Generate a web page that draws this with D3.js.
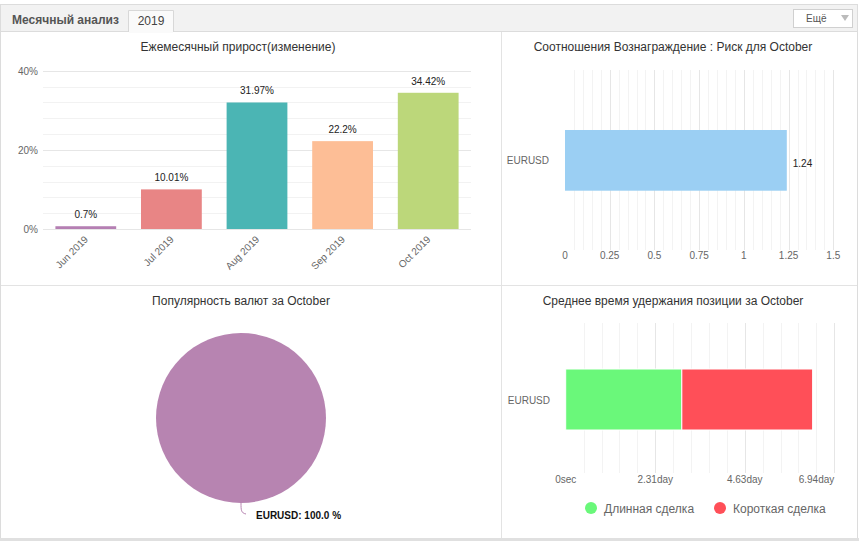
<!DOCTYPE html>
<html>
<head>
<meta charset="utf-8">
<script src="https://cdn.jsdelivr.net/npm/d3@7"></script>
<style>
  body { margin: 0; background: #fff; }
  svg { display: block; font-family: "Liberation Sans", Arial, sans-serif; }
</style>
</head>
<body>
<script>
// data
var months = ["Jun 2019", "Jul 2019", "Aug 2019", "Sep 2019", "Oct 2019"];
var growth = [0.7, 10.01, 31.97, 22.2, 34.42];
var growthColors = ["#b57fb3", "#e88585", "#4bb5b4", "#fdbe96", "#bcd77a"];
var growthTicks = [0, 20, 40];

var rrSymbols = ["EURUSD"];
var rrValues = [1.24];
var rrTicks = [0, 0.25, 0.5, 0.75, 1, 1.25, 1.5];

var pieSymbols = ["EURUSD"];
var pieShares = [100.0];

var holdSymbols = ["EURUSD"];
var holdLong = [3.0];   // days
var holdShort = [3.38]; // days
var holdTicks = [0, 2.313, 4.627, 6.94];
var holdTickLabels = ["0sec", "2.31day", "4.63day", "6.94day"];
var holdLegend = ["Длинная сделка", "Короткая сделка"];
var holdColors = ["#6af87a", "#ff4f58"];

var W = 861, H = 542;
var svg = d3.select("body").append("svg").attr("width", W).attr("height", H);

// frame + header
svg.append("rect").attr("x", 0.5).attr("y", 4.5).attr("width", 857).attr("height", 534)
  .attr("fill", "#fff").attr("stroke", "#dcdcdc");
svg.append("rect").attr("x", 0).attr("y", 538).attr("width", 859).attr("height", 3).attr("fill", "#e0e0e0");
svg.append("rect").attr("x", 1).attr("y", 5).attr("width", 856).attr("height", 26).attr("fill", "#f2f2f2");
svg.append("line").attr("x1", 1).attr("x2", 857).attr("y1", 31.5).attr("y2", 31.5).attr("stroke", "#dcdcdc");
svg.append("text").attr("x", 12).attr("y", 24).attr("font-size", 12).attr("font-weight", "bold")
  .attr("fill", "#555").text("Месячный анализ");
svg.append("path").attr("d", "M128.5,32V10.5H173.5V32").attr("fill", "#fafafa").attr("stroke", "#d8d8d8");
svg.append("rect").attr("x", 129).attr("y", 30).attr("width", 44).attr("height", 3).attr("fill", "#fafafa");
svg.append("text").attr("x", 151).attr("y", 25).attr("text-anchor", "middle").attr("font-size", 12)
  .attr("fill", "#444").text("2019");
svg.append("rect").attr("x", 793.5).attr("y", 9.5).attr("width", 59).attr("height", 18)
  .attr("fill", "#fff").attr("stroke", "#d0d0d0");
svg.append("text").attr("x", 806).attr("y", 22).attr("font-size", 10).attr("fill", "#555").text("Ещё");
svg.append("path").attr("d", "M841,15H849L845,21Z").attr("fill", "#bbb");

// panel dividers
svg.append("line").attr("x1", 501.5).attr("x2", 501.5).attr("y1", 32).attr("y2", 538).attr("stroke", "#e3e3e3");
svg.append("line").attr("x1", 1).attr("x2", 857).attr("y1", 285.5).attr("y2", 285.5).attr("stroke", "#e3e3e3");

function title(x, y, t) {
  svg.append("text").attr("x", x).attr("y", y).attr("text-anchor", "middle")
    .attr("font-size", 12).attr("fill", "#333").text(t);
}

// ---- monthly growth
title(238, 51, "Ежемесячный прирост(изменение)");
var gx = d3.scaleBand().domain(months).range([43, 471]).paddingInner(0.29).paddingOuter(0.145);
var gy = d3.scaleLinear().domain([0, 40]).range([229, 70.7]);
var g1 = svg.append("g");
g1.selectAll("line.minor").data(d3.range(0, 41, 4)).enter().append("line")
  .attr("x1", 43).attr("x2", 471)
  .attr("y1", function (d) { return Math.round(gy(d)) + 0.5; })
  .attr("y2", function (d) { return Math.round(gy(d)) + 0.5; })
  .attr("stroke", function (d) { return d % 20 === 0 ? "#e6e6e6" : "#f2f2f2"; });
g1.selectAll("text.yt").data(growthTicks).enter().append("text")
  .attr("x", 38).attr("y", function (d) { return gy(d) + 4; })
  .attr("text-anchor", "end").attr("font-size", 10).attr("fill", "#666")
  .text(function (d) { return d + "%"; });
g1.selectAll("rect").data(growth).enter().append("rect")
  .attr("x", function (d, i) { return gx(months[i]); })
  .attr("width", gx.bandwidth())
  .attr("y", function (d) { return gy(d); })
  .attr("height", function (d) { return gy(0) - gy(d); })
  .attr("fill", function (d, i) { return growthColors[i]; });
g1.selectAll("text.val").data(growth).enter().append("text")
  .attr("x", function (d, i) { return gx(months[i]) + gx.bandwidth() / 2; })
  .attr("y", function (d) { return gy(d) - 8; })
  .attr("text-anchor", "middle").attr("font-size", 10).attr("fill", "#222")
  .text(function (d) { return d + "%"; });
g1.selectAll("text.xt").data(months).enter().append("text")
  .attr("transform", function (d) { return "translate(" + (gx(d) + gx.bandwidth() / 2 + 3) + ",240) rotate(-45)"; })
  .attr("text-anchor", "end").attr("font-size", 10).attr("fill", "#666")
  .text(function (d) { return d; });

// ---- reward : risk
title(673, 51, "Соотношения Вознаграждение : Риск для October");
var rx = d3.scaleLinear().domain([0, 1.5]).range([565, 833.3]);
var ry = d3.scaleBand().domain(rrSymbols).range([70, 250]).paddingInner(0).paddingOuter(0.0);
var g2 = svg.append("g");
g2.selectAll("line").data(d3.range(1, 31)).enter().append("line")
  .attr("x1", function (d) { return Math.round(rx(d * 0.05)) + 0.5; })
  .attr("x2", function (d) { return Math.round(rx(d * 0.05)) + 0.5; })
  .attr("y1", 70).attr("y2", 250)
  .attr("stroke", function (d) { return d % 5 === 0 ? "#e6e6e6" : "#f3f3f3"; });
g2.selectAll("rect").data(rrValues).enter().append("rect")
  .attr("x", rx(0)).attr("width", function (d) { return rx(d) - rx(0); })
  .attr("y", function (d, i) { return ry(rrSymbols[i]) + 60; }).attr("height", 60.7)
  .attr("fill", "#9bcff3");
g2.selectAll("text.val").data(rrValues).enter().append("text")
  .attr("x", function (d) { return rx(d) + 6; }).attr("y", 167)
  .attr("font-size", 10).attr("fill", "#222").text(function (d) { return d; });
g2.selectAll("text.cat").data(rrSymbols).enter().append("text")
  .attr("x", 549).attr("y", 164).attr("text-anchor", "end")
  .attr("font-size", 10).attr("fill", "#666").text(function (d) { return d; });
g2.selectAll("text.xt").data(rrTicks).enter().append("text")
  .attr("x", function (d) { return rx(d); }).attr("y", 259).attr("text-anchor", "middle")
  .attr("font-size", 10).attr("fill", "#666").text(function (d) { return d; });

// ---- currency popularity pie
title(241, 305, "Популярность валют за October");
var pie = d3.pie().sort(null)(pieShares);
var arc = d3.arc().innerRadius(0).outerRadius(85);
var g3 = svg.append("g").attr("transform", "translate(241,418)");
g3.selectAll("path").data(pie).enter().append("path")
  .attr("d", arc).attr("fill", "#b784b1");
g3.append("path").attr("d", "M0,85C0,92 0,95 5,96").attr("fill", "none").attr("stroke", "#b784b1");
g3.selectAll("text").data(pieSymbols).enter().append("text")
  .attr("x", 15).attr("y", 101).attr("font-size", 10).attr("font-weight", "bold").attr("fill", "#111")
  .text(function (d, i) { return d + ": " + pieShares[i].toFixed(1) + " %"; });

// ---- average holding time
title(673, 305, "Среднее время удержания позиции за October");
var hx = d3.scaleLinear().domain([0, 6.94]).range([565.7, 834.3]);
var hy = d3.scaleBand().domain(holdSymbols).range([323, 473]);
var g4 = svg.append("g");
g4.selectAll("line").data(d3.range(1, 16)).enter().append("line")
  .attr("x1", function (d) { return Math.round(hx(d * 6.94 / 15)) + 0.5; })
  .attr("x2", function (d) { return Math.round(hx(d * 6.94 / 15)) + 0.5; })
  .attr("y1", 323).attr("y2", 473)
  .attr("stroke", function (d) { return d % 5 === 0 ? "#e6e6e6" : "#f3f3f3"; });
var stack = holdSymbols.map(function (s, i) {
  return [{ x0: 0, x1: holdLong[i], c: holdColors[0], s: s }, { x0: holdLong[i], x1: holdLong[i] + holdShort[i], c: holdColors[1], s: s }];
});
g4.selectAll("rect").data(d3.merge(stack)).enter().append("rect")
  .attr("x", function (d) { return hx(d.x0); })
  .attr("width", function (d) { return hx(d.x1) - hx(d.x0); })
  .attr("y", function (d) { return hy(d.s) + 46; }).attr("height", 61)
  .attr("fill", function (d) { return d.c; })
  .attr("stroke", "#fff").attr("stroke-width", 1);
g4.selectAll("text.cat").data(holdSymbols).enter().append("text")
  .attr("x", 550).attr("y", 404).attr("text-anchor", "end")
  .attr("font-size", 10).attr("fill", "#666").text(function (d) { return d; });
g4.selectAll("text.xt").data(holdTicks).enter().append("text")
  .attr("x", function (d) { return hx(d); })
  .attr("y", 483)
  .attr("text-anchor", function (d, i) { return i === holdTicks.length - 1 ? "end" : "middle"; })
  .attr("font-size", 10).attr("fill", "#666").text(function (d, i) { return holdTickLabels[i]; });
var leg = g4.selectAll("g.leg").data(holdLegend).enter().append("g")
  .attr("transform", function (d, i) { return "translate(" + [591, 720][i] + ",508)"; });
leg.append("circle").attr("r", 6).attr("fill", function (d, i) { return holdColors[i]; });
leg.append("text").attr("x", 13).attr("y", 4.5).attr("font-size", 12).attr("fill", "#666")
  .text(function (d) { return d; });
</script>
</body>
</html>
